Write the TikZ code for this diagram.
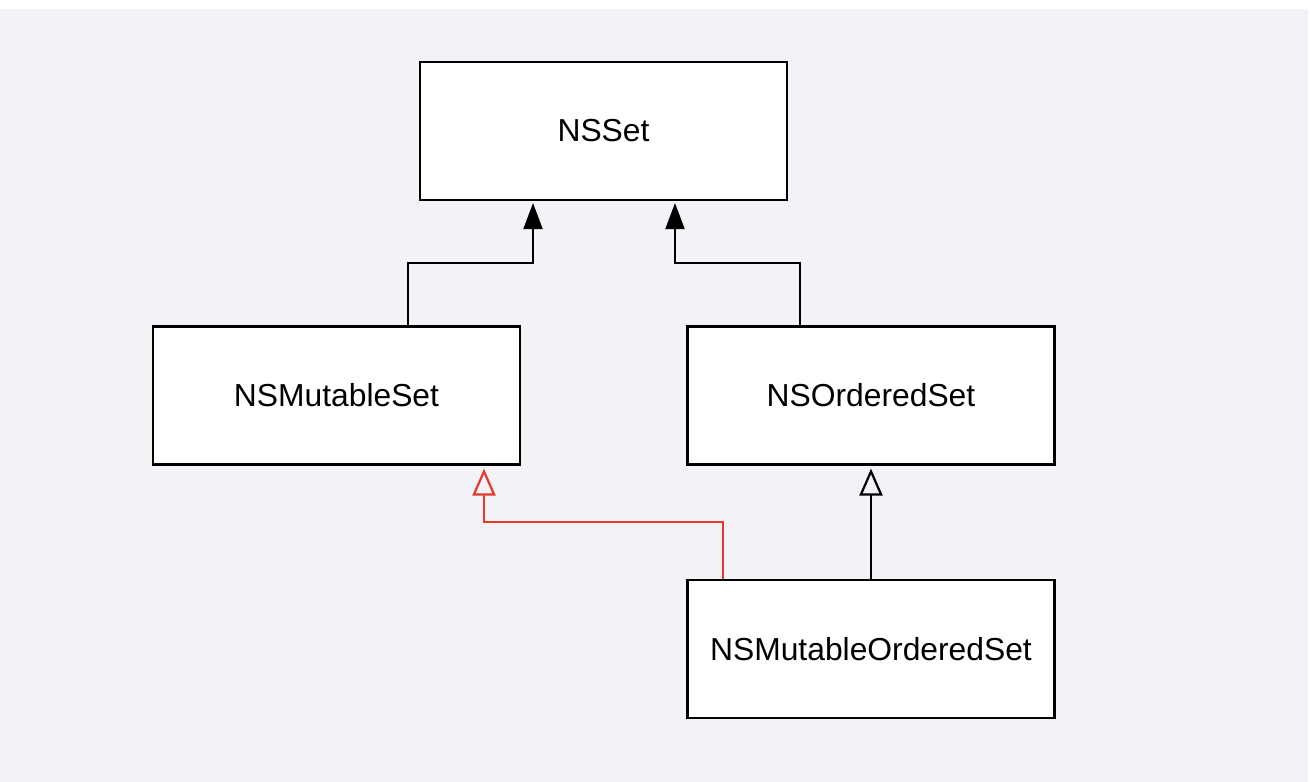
\documentclass[tikz,border=0pt]{standalone}
\usepackage{fontspec}
\setmainfont{Liberation Sans}
\usetikzlibrary{arrows.meta}
\definecolor{bg}{HTML}{F2F2F7}
\definecolor{redline}{HTML}{E8392B}
\tikzset{
  cls/.style={draw=black, fill=white, line width=2.2pt, inner sep=0pt,
    minimum width=367pt, minimum height=138pt, font=\fontsize{31.8}{36}\selectfont},
  inh/.style={line width=2.2pt, -{Triangle[length=26pt,width=19pt]}, shorten >=2pt},
  impl/.style={line width=2.2pt, -{Triangle[open,length=27pt,width=23pt,fill=bg]}, shorten >=3pt},
}
\begin{document}
\begin{tikzpicture}[x=1pt,y=1pt]
\useasboundingbox (0,0) rectangle (1310,782);
\fill[bg] (0,0) rectangle (1308,773);
\node[cls] (ns) at (603.5,651) {NSSet};
\node[cls] (ms) at (336.5,386.5) {NSMutableSet};
\node[cls] (os) at (871,386.5) {NSOrderedSet};
\node[cls] (mos) at (871,133) {NSMutableOrderedSet};
\draw[inh] ([xshift=71.5pt]ms.north) -- ++(0,62) -| ([xshift=-70.5pt]ns.south);
\draw[inh] ([xshift=-71pt]os.north) -- ++(0,62) -| ([xshift=71.5pt]ns.south);
\draw[impl, draw=redline] ([xshift=-148pt]mos.north) -- ++(0,57) -| ([xshift=147.5pt]ms.south);
\draw[impl] (mos.north) -- (os.south);
\end{tikzpicture}
\end{document}
